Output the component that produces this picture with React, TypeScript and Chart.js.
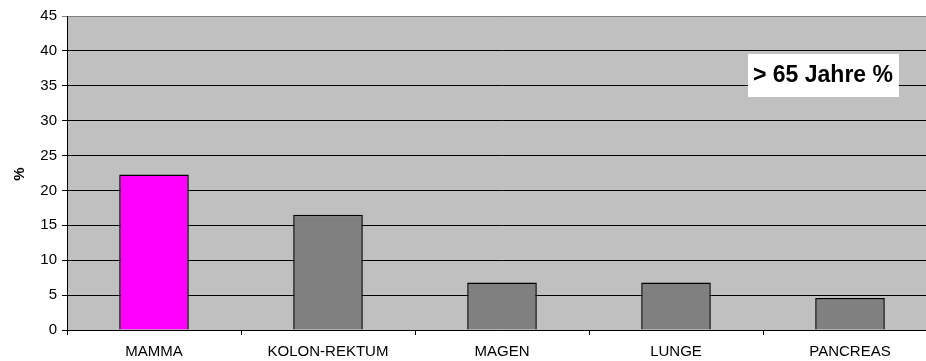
import React, { useEffect, useRef } from "react";
import { Chart, registerables } from "chart.js";

Chart.register(...registerables);

const categories = ["MAMMA", "KOLON-REKTUM", "MAGEN", "LUNGE", "PANCREAS"];
const values = [22.3, 16.5, 6.8, 6.8, 4.6];
const barColors = ["#FF00FF", "#808080", "#808080", "#808080", "#808080"];
const yMin = 0;
const yMax = 45;
const yStep = 5;
const boxTitle = "> 65 Jahre %";
const yAxisTitle = "%";

const FONT = "'Liberation Sans', Arial, sans-serif";

// Grey plot background behind the bars
const plotBackground = {
  id: "plotBackground",
  beforeDraw(chart: any) {
    const { ctx, chartArea } = chart;
    ctx.save();
    ctx.fillStyle = "#C0C0C0";
    ctx.fillRect(chartArea.left, chartArea.top, chartArea.right - chartArea.left, chartArea.bottom - chartArea.top);
    ctx.restore();
  },
};

// Boxed series caption and the rotated "%" axis caption
const captions = {
  id: "captions",
  afterDraw(chart: any) {
    const { ctx } = chart;
    ctx.save();
    ctx.fillStyle = "#FFFFFF";
    ctx.fillRect(748, 54, 151, 43);
    ctx.fillStyle = "#000000";
    ctx.font = `bold 23px ${FONT}`;
    ctx.textAlign = "center";
    ctx.textBaseline = "middle";
    ctx.fillText(boxTitle, 823, 76);

    ctx.translate(20, 174);
    ctx.rotate(-Math.PI / 2);
    ctx.font = `bold 15px ${FONT}`;
    ctx.fillText(yAxisTitle, 0, 0);
    ctx.restore();
  },
};

export default function App() {
  const canvasRef = useRef<HTMLCanvasElement | null>(null);

  useEffect(() => {
    document.body.style.margin = "0";
    const canvas = canvasRef.current;
    if (!canvas) return;
    const chart = new Chart(canvas, {
      type: "bar",
      data: {
        labels: categories,
        datasets: [
          {
            data: values,
            backgroundColor: barColors,
            borderColor: "#000000",
            borderWidth: 1.5,
            barPercentage: 0.4,
            categoryPercentage: 1.0,
          },
        ],
      },
      options: {
        responsive: false,
        animation: false,
        devicePixelRatio: 1,
        layout: { padding: { top: 16, left: 0, right: 13, bottom: 0 } },
        plugins: {
          legend: { display: false },
          tooltip: { enabled: false },
          title: { display: false },
        },
        scales: {
          x: {
            offset: true,
            grid: {
              offset: true,
              drawOnChartArea: false,
              drawTicks: true,
              tickLength: 5,
              color: "#000000",
            },
            border: { display: true, color: "#000000", width: 1 },
            ticks: {
              color: "#000000",
              font: { family: FONT, size: 15 },
              padding: 8,
              maxRotation: 0,
              autoSkip: false,
            },
            afterFit(scale: any) {
              scale.height = 31;
            },
          },
          y: {
            min: yMin,
            max: yMax,
            ticks: {
              stepSize: yStep,
              color: "#000000",
              font: { family: FONT, size: 15 },
              padding: 5,
            },
            grid: {
              color: (ctx: any) => (ctx.tick && ctx.tick.value === yMax ? "#808080" : "#000000"),
              lineWidth: 1,
              drawTicks: true,
              tickLength: 5,
            },
            border: { display: true, color: "#000000", width: 1 },
            afterFit(scale: any) {
              scale.width = 67;
            },
          },
        },
      },
      plugins: [plotBackground, captions],
    });
    return () => chart.destroy();
  }, []);

  return (
    <div style={{ position: "absolute", left: 0, top: 0, width: 926, height: 361, overflow: "hidden", background: "#FFFFFF" }}>
      <canvas ref={canvasRef} width={950} height={361} />
    </div>
  );
}
